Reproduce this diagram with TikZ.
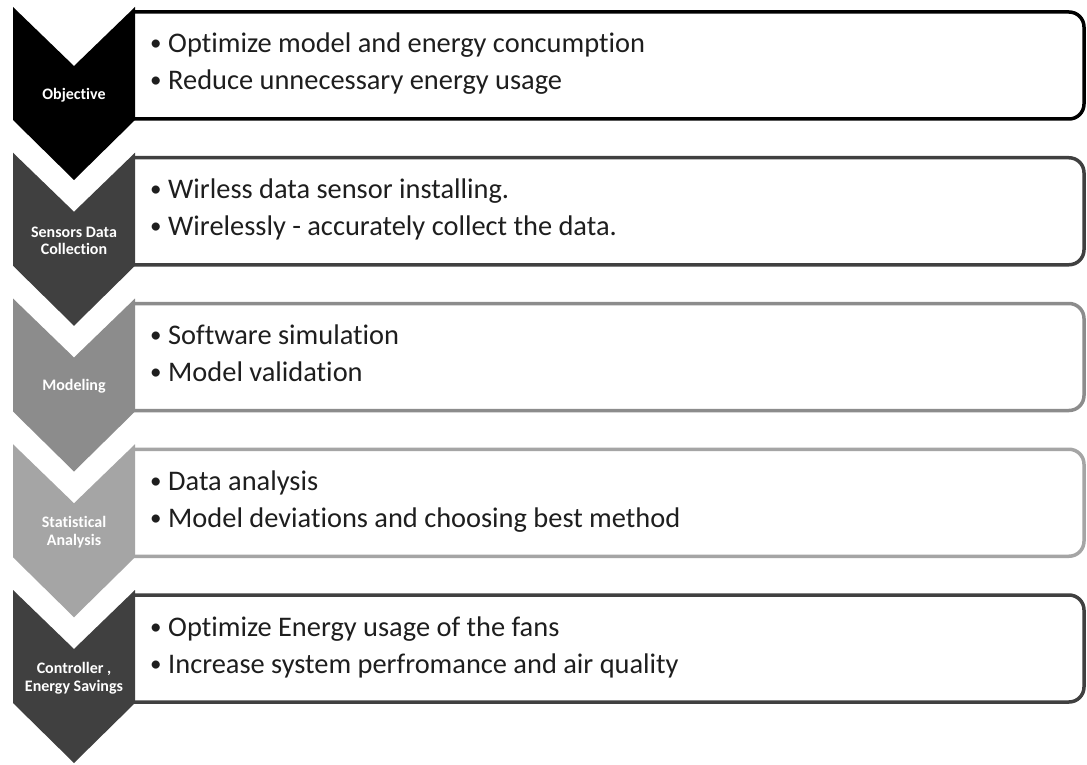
\documentclass[tikz,border=0pt]{standalone}
\usepackage{fontspec}
\setmainfont{Carlito}[Ligatures=NoCommon]
\definecolor{cA}{HTML}{000000}
\definecolor{cB}{HTML}{404040}
\definecolor{cC}{HTML}{8C8C8C}
\definecolor{cD}{HTML}{A5A5A5}
\definecolor{cE}{HTML}{404040}
\definecolor{txt}{HTML}{1E1E1E}
\newcommand\bul{\makebox[18pt][l]{\raisebox{2pt}{\fontsize{23}{23}\selectfont•}}}
\newcommand\mkrow[6]{%
  \draw[box, draw=#3] (133,#2+5) -- (1084,#2+5) -- (1084,#2+112) -- (133,#2+112);
  \fill[#3] (13,#2) -- (74,#2+59) -- (135,#2) -- (135,#2+113) -- (74,#2+173) -- (13,#2+113) -- cycle;
  \node[lab] (#1lab) at (74,#2+88) {#4};
  \node[item] (#1a) at (150,#2+46) {\bul#5};
  \node[item] (#1b) at (150,#2+83) {\bul#6};
}
\begin{document}
\begin{tikzpicture}[x=1pt,y=-1pt,
  box/.style={line width=3.5pt, rounded corners=15pt},
  lab/.style={text=white, font=\fontsize{16}{17.5}\selectfont\bfseries, align=center, inner sep=0pt},
  item/.style={text=txt, font=\fontsize{28.4}{34}\selectfont, anchor=base west, inner sep=0pt}]
\useasboundingbox (0,0) rectangle (1087,765);
\fill[white] (0,0) rectangle (1087,765);
\mkrow{r1}{7}{cA}{Objective}{Optimize model and energy concumption}{Reduce unnecessary energy usage}
\mkrow{r2}{152.75}{cB}{Sensors Data\\Collection}{Wirless data sensor installing.}{Wirelessly - accurately collect the data.}
\mkrow{r3}{298.5}{cC}{Modeling}{Software simulation}{Model validation}
\mkrow{r4}{444.25}{cD}{Statistical\\Analysis}{Data analysis}{Model deviations and choosing best method}
\mkrow{r5}{590}{cE}{Controller ,\\Energy Savings}{Optimize Energy usage of the fans}{Increase system perfromance and air quality}
\end{tikzpicture}
\end{document}
